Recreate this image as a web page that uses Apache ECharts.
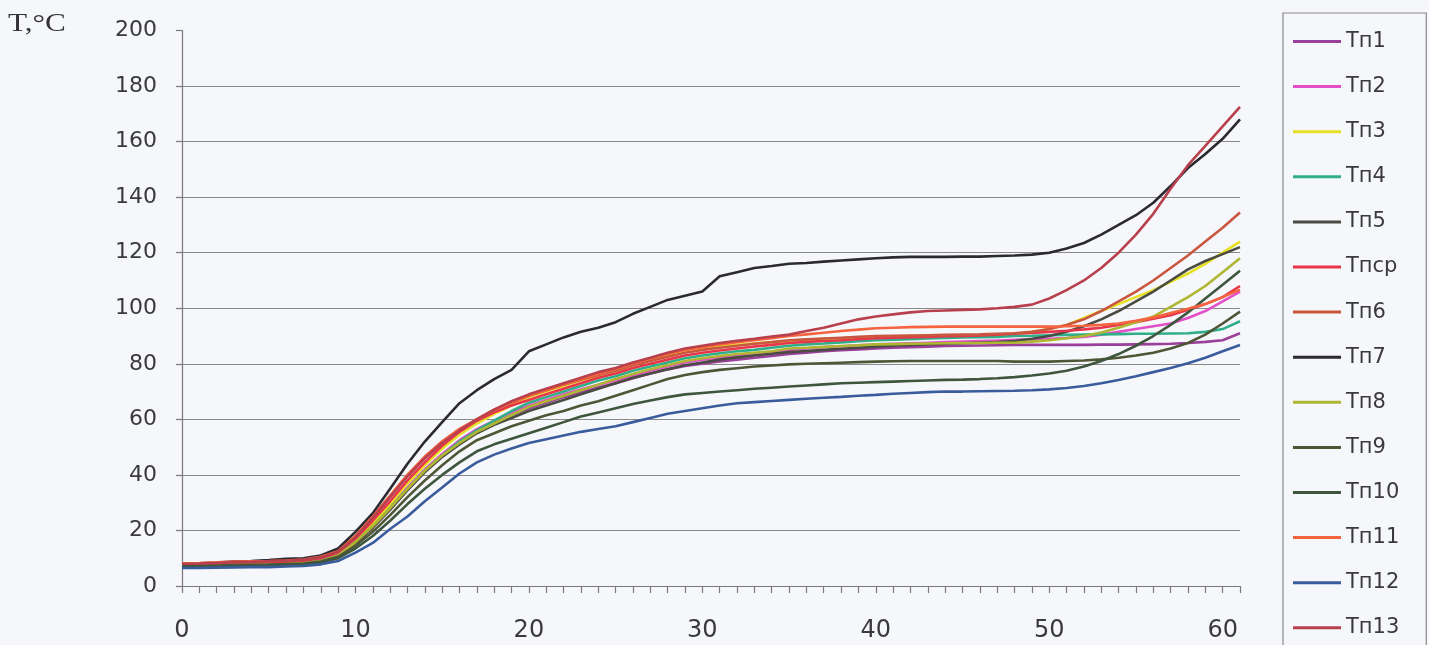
<!DOCTYPE html>
<html>
<head>
<meta charset="utf-8">
<script src="https://cdn.jsdelivr.net/npm/echarts@6/dist/echarts.min.js"></script>
<style>
html,body{margin:0;padding:0;background:#f6f7fb;}
#chart{width:1429px;height:645px;}
</style>
</head>
<body>
<div id="chart"></div>
<script>
const minutes = [0,1,2,3,4,5,6,7,8,9,10,11,12,13,14,15,16,17,18,19,20,21,22,23,24,25,26,27,28,29,30,31,32,33,34,35,36,37,38,39,40,41,42,43,44,45,46,47,48,49,50,51,52,53,54,55,56,57,58,59,60,61];
const yTicks = [0,20,40,60,80,100,120,140,160,180,200];

const tp1 = [7.2,7.3,7.4,7.6,7.7,7.8,8.0,8.2,9.0,10.8, 15.5,21,27.5,34.5,41,46.5,51.5,55.5,58.5,61.5, 64,66,68,69.8,71.5,73,74.8,76.5,78,79.2, 80,80.8,81.5,82.2,82.8,83.5,84,84.5,84.9,85.2, 85.5,85.8,86,86.2,86.4,86.5,86.6,86.7,86.8,86.8, 86.8,86.8,86.8,86.9,86.9,87,87.1,87.2,87.5,87.9, 88.5,91];
const tp2 = [7.4,7.5,7.6,7.8,7.9,8.0,8.2,8.4,9.2,11.2, 16,22,28.5,35.5,42,47.5,52.5,56.5,59.5,62.5, 65,67,69,70.8,72.5,74,75.8,77.5,79,80.5, 81.5,82.3,83,83.6,84.3,85,85.5,86,86.3,86.7, 87,87.2,87.4,87.6,87.8,88,88.2,88.4,88.6,88.8, 89,89.3,89.7,90.5,91.5,92.5,93.5,94.5,96.5,99, 102.5,106];
const tp3 = [7.0,7.1,7.2,7.3,7.4,7.5,7.6,7.9,8.8,10.8, 16,22.5,29.5,37,43.5,49.5,54.5,58.5,62,65, 68,70,72,74,75.8,77.5,79.5,81.5,83,84.5, 85.5,86.3,86.8,87.3,87.8,88.2,88.6,89,89.2,89.5, 89.8,89.9,90,90.1,90.2,90.2,90.3,90.4,90.8,91.5, 92.5,94,96.5,99,101.5,104,106.5,109.5,112.5,116, 120,124];
const tp4 = [7.3,7.4,7.5,7.7,7.8,7.9,8.1,8.3,9.0,10.8, 15.8,21.5,28,35,41.5,47,52,56,59.5,63, 66,68,70,72,74,75.5,77.5,79,80.5,82, 83,83.8,84.5,85,85.8,86.5,87,87.3,87.7,88.1, 88.5,88.7,88.9,89.1,89.3,89.5,89.6,89.7,90,90.1, 90.3,90.4,90.5,90.6,90.7,90.8,90.8,90.9,91,91.5, 92.5,95.3];
const tp5 = [7.0,7.1,7.2,7.4,7.5,7.6,7.8,8.2,9.0,11.0, 15.5,21,27.5,34.5,41,46.5,51,55,58,60.5, 63,65,67,69,71,73,75,76.5,78,79.5, 80.5,81.5,82.3,83,83.6,84.2,84.6,85,85.4,85.8, 86.2,86.5,86.8,87,87.2,87.4,87.6,87.8,88.2,89, 90,91.5,93.5,96,99,102.5,106,110,114,117, 119.5,122];
const tpSr = [7.6,7.7,7.9,8.2,8.3,8.5,8.7,9.0,10.0,12.0, 17,23.5,30.5,38,44.5,50.5,55.5,59.5,62.5,65, 67,69,71,73,75,76.5,78.5,80,81.5,83, 84,84.8,85.5,86.2,86.8,87.5,87.9,88.2,88.5,88.9, 89.2,89.4,89.6,89.7,89.9,90,90.2,90.5,90.8,91.1, 91.5,91.9,92.4,93,94,95,96.2,97.5,99.5,101.5, 104,108];
const tp6 = [8.0,8.1,8.3,8.6,8.7,8.9,9.1,9.4,10.4,12.5, 18,25,32.5,40,46.5,52,56.5,60,63.5,66, 68.5,70.5,72.5,74.3,76,77.5,79.5,81,82.5,84, 85,85.8,86.5,87.2,87.8,88.5,88.8,89.1,89.4,89.7, 90,90.1,90.2,90.3,90.4,90.5,90.6,90.8,91,91.5, 92.5,94,96,99,102.5,106,110,114.5,119,124, 129,134.5];
const tp7 = [8.0,8.2,8.4,8.8,9.0,9.3,9.8,10.0,11.0,13.5, 19.5,26.2,35,44,52,59,65.8,70.5,74.5,77.8, 84.5,87,89.5,91.5,93,95,98,100.5,103,104.5, 106,111.5,113,114.5,115.2,116,116.3,116.8,117.2,117.6, 118,118.3,118.5,118.5,118.5,118.6,118.6,118.8,119,119.3, 120,121.5,123.5,126.5,130,133.5,138,144,150.5,155.5, 161,168];
const tp8 = [7.1,7.2,7.3,7.5,7.6,7.7,7.9,8.2,9.0,11.0, 15.8,21.5,28,35,41.5,47,51.5,55.5,58.5,61.5, 64.5,66.5,68.5,70.5,72.5,74.5,76.3,78,79.5,81, 82,82.8,83.5,84,84.5,85.5,85.8,86.1,86.4,86.7, 87,87.1,87.2,87.3,87.4,87.5,87.5,87.6,87.6,88, 88.5,89.2,90,91.3,93,95,97,100.5,104,108, 113,118];
const tp9 = [7.2,7.3,7.4,7.5,7.6,7.7,7.9,8.1,8.8,10.5, 14.5,19.5,25.5,32,38,43.5,48.5,52.5,55,57.5, 59.5,61.5,63,65,66.5,68.5,70.5,72.5,74.5,76, 77,77.8,78.4,79,79.4,79.8,80,80.2,80.4,80.6, 80.8,80.9,81,81,81,81,81,81,80.8,80.8, 80.8,81,81.2,81.6,82.2,83,84,85.5,87.5,90.5, 94.5,98.8];
const tp10 = [7.0,7.0,7.1,7.2,7.3,7.4,7.6,7.8,8.5,10.0, 13.5,18,23.5,29.5,35,40,44.5,48.5,51,53, 55,57,59,61,62.5,64,65.5,66.8,68,69, 69.5,70,70.5,71,71.4,71.8,72.2,72.6,73,73.2, 73.4,73.6,73.8,74,74.2,74.3,74.5,74.8,75.2,75.8, 76.5,77.5,79,81,83.5,86.5,90,94,98.5,103.5, 108.5,113.5];
const tp11 = [8.2,8.3,8.5,8.8,8.9,9.0,9.2,9.5,10.5,12.5, 18,25,32.5,40,46.5,52,56.5,60,63.5,66, 68.5,70.5,72.5,74.5,76.3,78,80,81.8,83.5,85, 86,87,87.8,88.5,89.2,90,90.6,91.2,91.8,92.3, 92.8,93,93.2,93.3,93.4,93.4,93.4,93.4,93.4,93.4, 93.4,93.5,93.7,94,94.5,95.5,96.7,98.3,99.8,101.5, 104,106.7];
const tp12 = [6.5,6.5,6.6,6.7,6.8,6.8,7.0,7.2,7.8,9.0, 12,15.5,20.5,25,30.5,35.5,40.5,44.5,47.3,49.5, 51.5,52.8,54.2,55.5,56.5,57.5,59,60.5,62,63, 64,65,65.8,66.2,66.6,67,67.4,67.8,68.1,68.5, 68.8,69.2,69.5,69.8,70,70,70.1,70.2,70.3,70.5, 70.8,71.3,72,73,74.2,75.5,77,78.5,80.2,82.2, 84.5,86.8];
const tp13 = [8.0,8.1,8.3,8.6,8.7,8.9,9.1,9.4,10.3,12.3, 17.5,24.5,32,39.5,46,51.5,56,60,63.5,66.5, 69,71,73,75,77,78.5,80.5,82.2,84,85.5, 86.5,87.5,88.3,89,89.8,90.5,91.8,93,94.5,96, 97,97.8,98.5,99,99.2,99.4,99.6,100,100.5,101.3, 103.5,106.5,110,114.5,120,126.5,134,143,151.5,158.5, 165.5,172.5];

const seriesNames = ['Тп1','Тп2','Тп3','Тп4','Тп5','Тпср','Тп6','Тп7','Тп8','Тп9','Тп10','Тп11','Тп12','Тп13'];
const seriesData = [tp1,tp2,tp3,tp4,tp5,tpSr,tp6,tp7,tp8,tp9,tp10,tp11,tp12,tp13];
const seriesColors = ['#9a3f9a','#e34fc6','#e6e022','#2fae8a','#4a4b42','#e8354a','#c9573f','#2a2a30','#afb632','#4e5636','#3e563e','#f5633f','#3a5c9c','#b8404c'];

const chart = echarts.init(document.getElementById('chart'));
const txt = '#3a3a3a';
chart.setOption({
  backgroundColor: '#f6f7fb',
  animation: false,
  grid: { left: 182, right: 189, top: 30.5, bottom: 59, containLabel: false },
  xAxis: {
    type: 'category',
    data: minutes,
    boundaryGap: false,
    axisLine: { show: true, lineStyle: { color: '#7a7a7a', width: 1.2 } },
    axisTick: { show: true, interval: 0, length: 7, lineStyle: { color: '#7a7a7a', width: 1.2 } },
    axisLabel: {
      interval: function (i) { return i % 10 === 0; },
      color: txt, fontFamily: 'DejaVu Sans', fontSize: 24, margin: 33
    },
    splitLine: { show: false }
  },
  yAxis: {
    type: 'value',
    min: 0, max: 200, interval: 20,
    axisLine: { show: true, lineStyle: { color: '#7a7a7a', width: 1.2 } },
    axisTick: { show: true, length: 6, lineStyle: { color: '#7a7a7a', width: 1.2 } },
    axisLabel: { color: txt, fontFamily: 'DejaVu Sans', fontSize: 22, margin: 25,
      formatter: function (v) { return yTicks.indexOf(v) >= 0 ? String(v) : ''; } },
    splitLine: { show: true, showMinLine: false, showMaxLine: false, lineStyle: { color: '#8a8a8a', width: 1.2 } }
  },
  legend: {
    orient: 'vertical',
    left: 1283, top: 13, height: 720,
    padding: [18, 27, 24, 10],
    itemGap: 24.1,
    itemWidth: 48, itemHeight: 3,
    icon: 'rect',
    borderColor: '#8a8a8a', borderWidth: 1.2,
    textStyle: { color: txt, fontFamily: 'DejaVu Sans', fontSize: 21 },
    data: seriesNames
  },
  graphic: [{
    type: 'text', x: 8, y: 11, scaleX: 1.2,
    style: { text: 'T,°C', fill: '#333', font: '26px "Liberation Serif", serif' }
  }],
  series: seriesNames.map(function (n, i) {
    return {
      name: n, type: 'line', data: seriesData[i],
      showSymbol: false, symbol: 'none',
      lineStyle: { color: seriesColors[i], width: 2.6 },
      itemStyle: { color: seriesColors[i] },
      z: 2
    };
  })
});
</script>
</body>
</html>
